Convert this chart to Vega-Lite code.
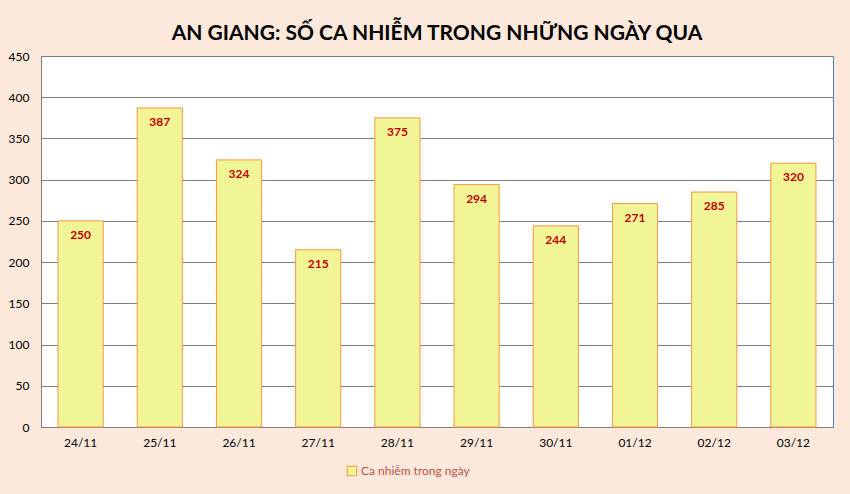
{
  "$schema": "https://vega.github.io/schema/vega-lite/v6.json",
  "autosize": {"type": "none"},
  "width": 792,
  "height": 371,
  "padding": {"left": 41, "top": 56, "right": 17, "bottom": 67},
  "background": "#FCE9DB",
  "title": {
    "text": "AN GIANG: SỐ CA NHIỄM TRONG NHỮNG NGÀY QUA",
    "font": "Lato",
    "fontSize": 21,
    "fontWeight": "bold",
    "color": "#000000",
    "anchor": "middle",
    "frame": "group",
    "offset": 6
  },
  "data": {
    "values": [
      {"ngay": "24/11", "so_ca": 250, "series": "Ca nhiễm trong ngày"},
      {"ngay": "25/11", "so_ca": 387, "series": "Ca nhiễm trong ngày"},
      {"ngay": "26/11", "so_ca": 324, "series": "Ca nhiễm trong ngày"},
      {"ngay": "27/11", "so_ca": 215, "series": "Ca nhiễm trong ngày"},
      {"ngay": "28/11", "so_ca": 375, "series": "Ca nhiễm trong ngày"},
      {"ngay": "29/11", "so_ca": 294, "series": "Ca nhiễm trong ngày"},
      {"ngay": "30/11", "so_ca": 244, "series": "Ca nhiễm trong ngày"},
      {"ngay": "01/12", "so_ca": 271, "series": "Ca nhiễm trong ngày"},
      {"ngay": "02/12", "so_ca": 285, "series": "Ca nhiễm trong ngày"},
      {"ngay": "03/12", "so_ca": 320, "series": "Ca nhiễm trong ngày"}
    ]
  },
  "encoding": {
    "x": {
      "field": "ngay",
      "type": "nominal",
      "sort": null,
      "scale": {"paddingInner": 0.43, "paddingOuter": 0.215},
      "axis": {
        "title": null,
        "labelAngle": 0,
        "ticks": false,
        "labelPadding": 10,
        "labelFont": "Lato",
        "labelFontSize": 12,
        "labelColor": "#000000",
        "domainColor": "#808080",
        "grid": false
      }
    },
    "y": {
      "field": "so_ca",
      "type": "quantitative",
      "scale": {"domain": [0, 450]},
      "axis": {
        "title": null,
        "values": [0, 50, 100, 150, 200, 250, 300, 350, 400, 450],
        "ticks": false,
        "labelPadding": 12,
        "labelFont": "Lato",
        "labelFontSize": 12,
        "labelColor": "#000000",
        "domainColor": "#808080",
        "gridColor": "#808080",
        "gridWidth": 1
      }
    }
  },
  "layer": [
    {
      "mark": {"type": "bar", "fill": "#F2F595", "stroke": "#F79646", "strokeWidth": 1},
      "encoding": {
        "fill": {
          "field": "series",
          "type": "nominal",
          "scale": {"range": ["#F2F595"]},
          "legend": {
            "title": null,
            "orient": "none",
            "legendX": 305,
            "legendY": 409,
            "symbolType": "square",
            "symbolSize": 90,
            "symbolStrokeColor": "#F79646",
            "symbolStrokeWidth": 1,
            "labelFont": "Lato",
            "labelFontSize": 12,
            "labelColor": "#C0504D",
            "labelOffset": 3
          }
        }
      }
    },
    {
      "mark": {
        "type": "text",
        "baseline": "top",
        "dy": 9,
        "font": "Lato",
        "fontSize": 12,
        "fontWeight": "bold",
        "color": "#C00000"
      },
      "encoding": {"text": {"field": "so_ca", "type": "quantitative"}}
    }
  ],
  "config": {
    "view": {"stroke": "#4F81BD", "strokeWidth": 1, "fill": "#FFFFFF"}
  }
}
